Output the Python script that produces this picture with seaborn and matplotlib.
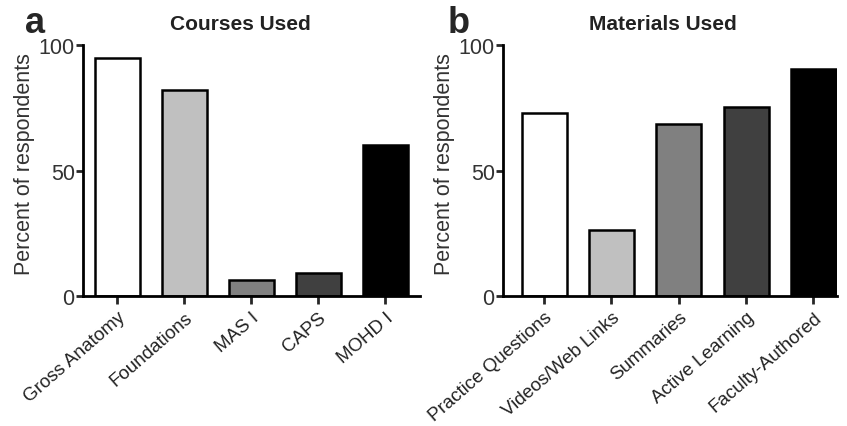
import numpy as np
import pandas as pd
import seaborn as sns
import matplotlib.pyplot as plt

courses = ['Gross Anatomy', 'Foundations', 'MAS I', 'CAPS', 'MOHD I']
courses_pct = [95, 82, 6.5, 9, 60]
materials = ['Practice Questions', 'Videos/Web Links', 'Summaries', 'Active Learning', 'Faculty-Authored']
materials_pct = [73, 26.5, 68.5, 75.5, 90.5]
greys = ['#ffffff', '#c0c0c0', '#808080', '#404040', '#000000']

sns.set_style('ticks')
plt.rcParams['font.family'] = ['Liberation Sans', 'DejaVu Sans']

fig = plt.figure(figsize=(8.47, 4.27), dpi=100)
ax1 = fig.add_axes([0.098, 0.3044, 0.3979, 0.5878])
ax2 = fig.add_axes([0.5939, 0.3044, 0.3943, 0.5878])

dfa = pd.DataFrame({'name': courses, 'pct': courses_pct})
dfb = pd.DataFrame({'name': materials, 'pct': materials_pct})

for ax, df, xl in [(ax1, dfa, (-0.51, 4.52)), (ax2, dfb, (-0.61, 4.35))]:
    sns.barplot(data=df, x='name', y='pct', hue='name', palette=greys,
                edgecolor='black', linewidth=1.8, width=0.67, legend=False, ax=ax)
    ax.set_xlim(*xl)
    ax.set_ylim(0, 100)
    ax.set_yticks([0, 50, 100])
    ax.set_xlabel('')
    ax.set_ylabel('Percent of respondents', fontsize=15.5, color='#333333')
    ax.yaxis.set_label_coords(-0.175, 0.53)
    ax.yaxis.label.set_va('center')
    for s in ['top', 'right']:
        ax.spines[s].set_visible(False)
    for s in ['left', 'bottom']:
        ax.spines[s].set_linewidth(2)
        ax.spines[s].set_color('black')
    ax.tick_params(axis='y', length=5, width=2, pad=1, labelsize=15.5, labelcolor='#333333')
    ax.tick_params(axis='x', length=6, width=2, pad=3, labelsize=13.5, labelcolor='#222222')
    plt.setp(ax.get_xticklabels(), rotation=41, ha='right', rotation_mode='anchor')

fig.text(0.284, 0.9297, 'Courses Used', ha='center', va='baseline', fontsize=15, fontweight='bold', color='#222222')
fig.text(0.783, 0.9297, 'Materials Used', ha='center', va='baseline', fontsize=15, fontweight='bold', color='#222222')
fig.text(0.0295, 0.9227, 'a', ha='left', va='baseline', fontsize=26, fontweight='bold')
fig.text(0.528, 0.9227, 'b', ha='left', va='baseline', fontsize=26, fontweight='bold')

fig.savefig('out.png', dpi=100)
